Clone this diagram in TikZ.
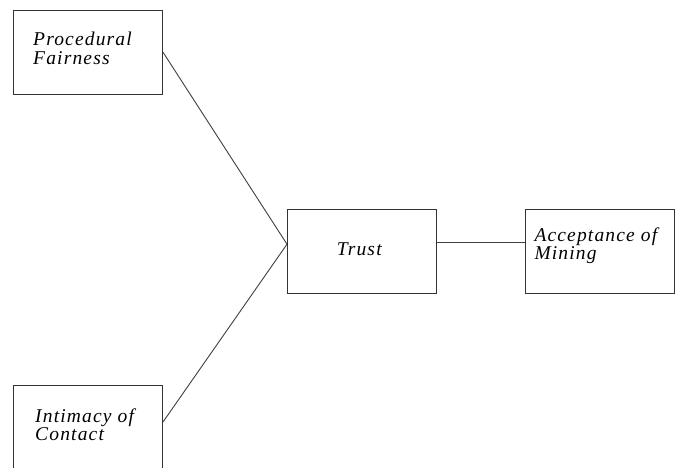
\documentclass[tikz,border=0pt]{standalone}
\usepackage{fontspec}
\setmainfont{Liberation Serif}
\newfontfamily\labfont[LetterSpace=6]{Liberation Serif}
\begin{document}
\begin{tikzpicture}[x=1pt,y=-1pt,
  boxnode/.style={draw=black!80,line width=1pt,minimum width=149pt,minimum height=84pt,inner sep=0pt},
  lab/.style={anchor=base west,inner sep=0pt,font=\labfont\itshape\fontsize{19.5}{20}\selectfont,text=black},
  conn/.style={draw=black!75,line width=0.9pt}]
\useasboundingbox (0,0) rectangle (681,468);
\clip (0,0) rectangle (681,468);
\fill[white] (0,0) rectangle (681,468);
\node[boxnode] (pf) at (88,52.2) {};
\node[boxnode] (trust) at (362,251.2) {};
\node[boxnode] (acc) at (599.7,251.2) {};
\node[boxnode,minimum height=85pt] (ic) at (88,427.5) {};
\node[lab] (pf1) at (33,45.7) {Procedural};
\node[lab] (pf2) at (33,65) {Fairness};
\node[lab] (tr1) at (336.7,255) {Trust};
\node[lab] (ac1) at (534.3,241.7) {Acceptance of};
\node[lab] (ac2) at (534.3,260) {Mining};
\node[lab] (ic1) at (35,422.7) {Intimacy of};
\node[lab] (ic2) at (35,440.7) {Contact};
\draw[conn] (pf.east) -- ([yshift=7pt]trust.west);
\draw[conn] ([yshift=5.5pt]ic.east) -- ([yshift=7pt]trust.west);
\draw[conn] ([yshift=8.3pt]trust.east) -- ([yshift=8.3pt]acc.west);
\end{tikzpicture}
\end{document}
